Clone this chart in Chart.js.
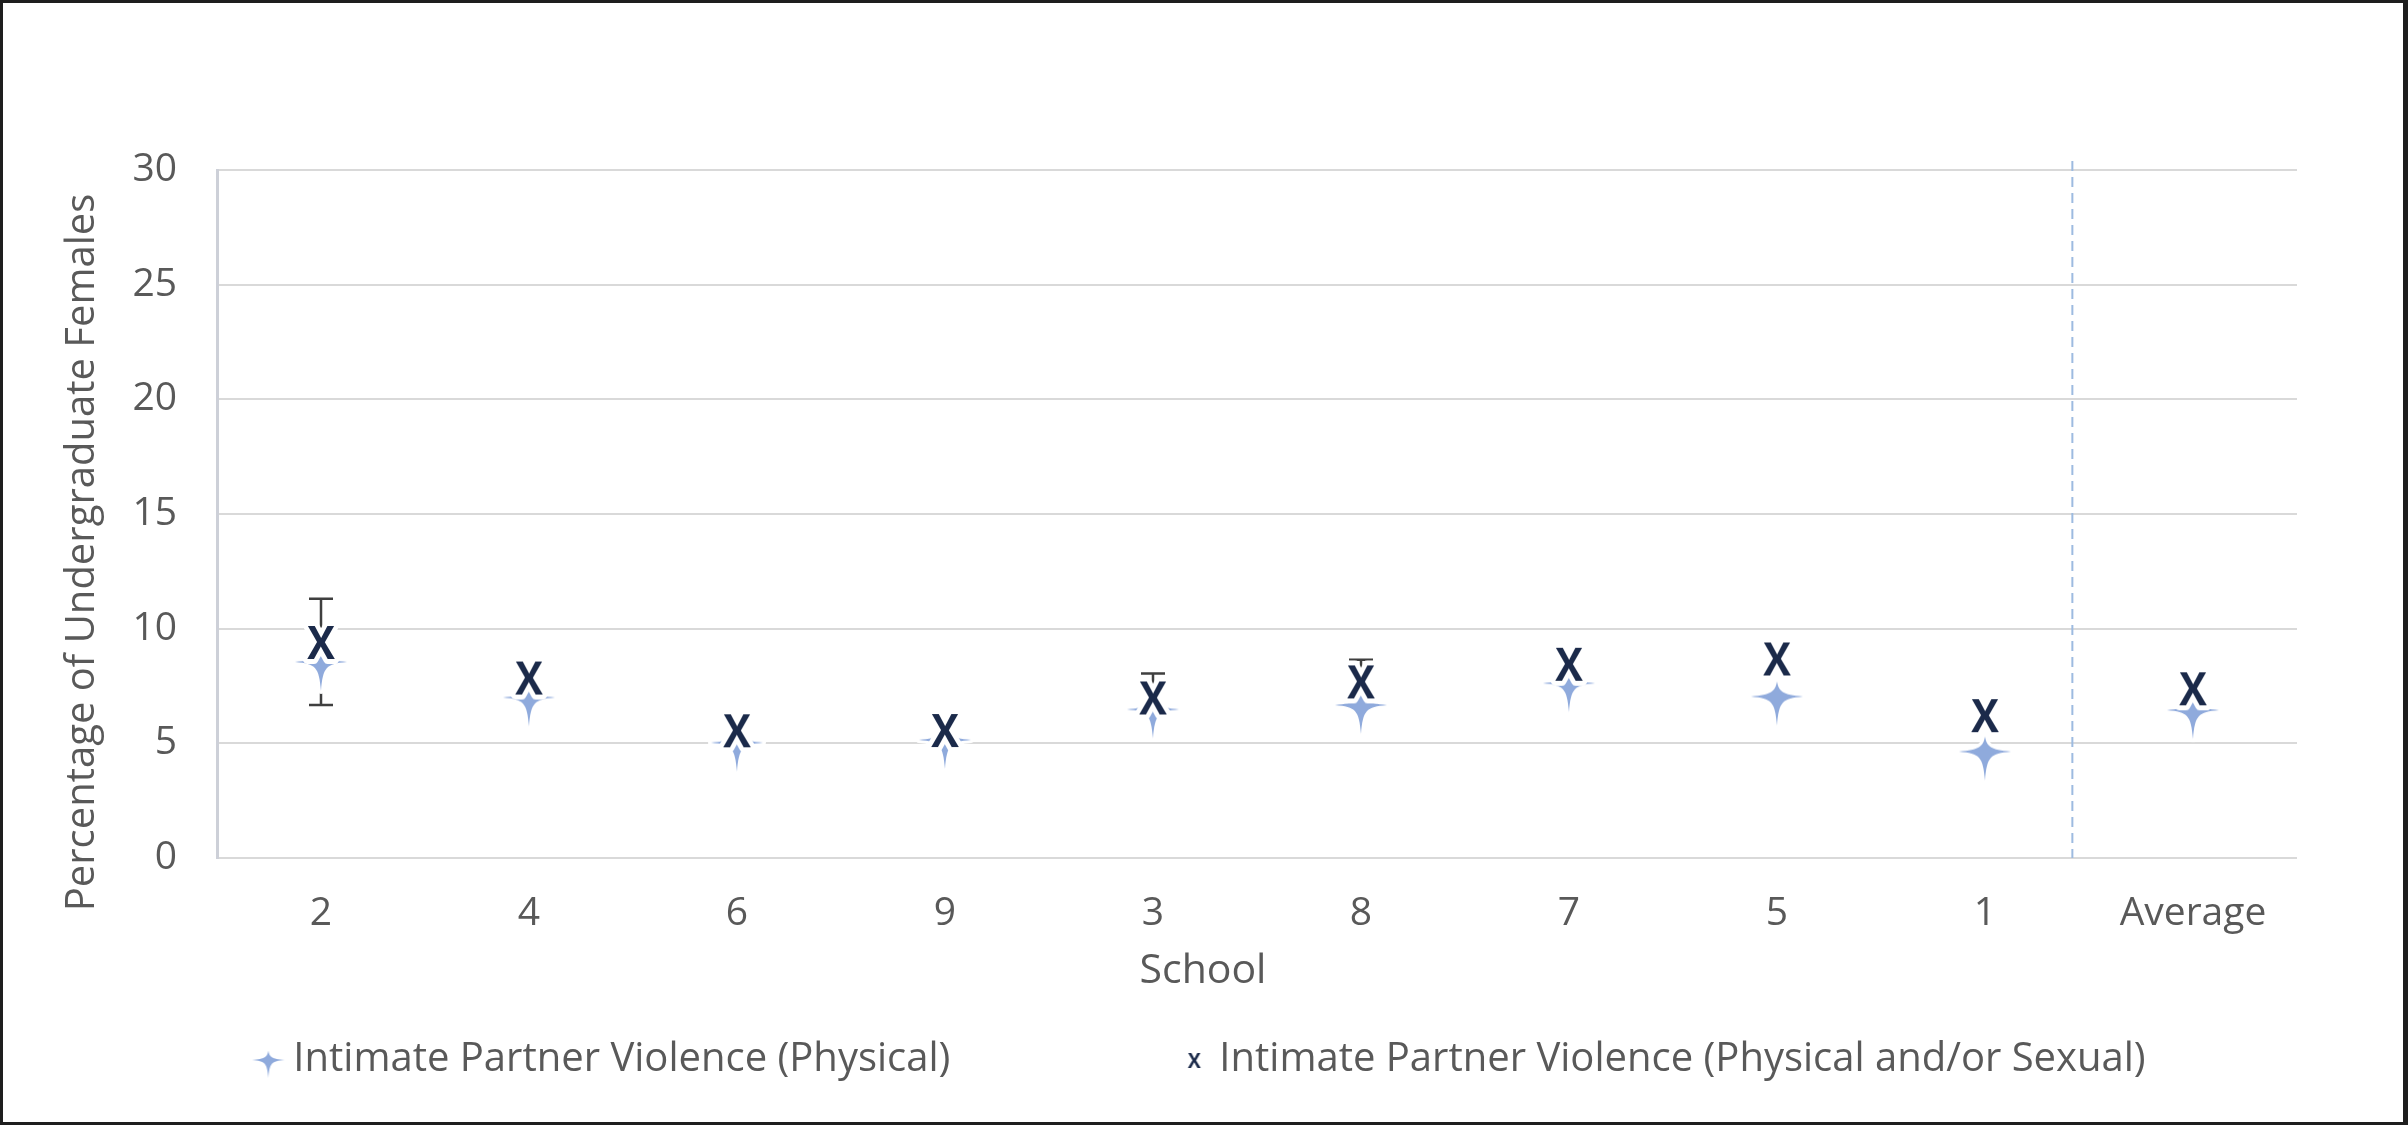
<!DOCTYPE html>
<html>
<head>
<meta charset="utf-8">
<script src="https://cdn.jsdelivr.net/npm/chart.js@4.4.1/dist/chart.umd.min.js"></script>
<style>
  html, body { margin: 0; padding: 0; background: #fff; }
  #frame { width: 2408px; height: 1125px; box-sizing: border-box; border: 3px solid #1e1e1e; border-right-width: 5px; background: #fff; }
  #wrap { position: relative; width: 2400px; height: 1119px; }
</style>
</head>
<body>
<div id="frame"><div id="wrap"><canvas id="myChart"></canvas></div></div>
<script>
const schools = ["2", "4", "6", "9", "3", "8", "7", "5", "1", "Average"];
const physical = [8.55, 7.0, 5.03, 5.15, 6.48, 6.67, 7.62, 7.04, 4.64, 6.45];
const physicalOrSexual = [9.42, 7.87, 5.57, 5.58, 7.0, 7.7, 8.47, 8.7, 6.23, 7.4];
const physicalErrDown = [1.88, 0, 0, 0, 0, 0, 0, 0, 0, 0];
const combinedErrUp = [1.88, 0, 0, 0, 1.04, 0.94, 0, 0, 0, 0];
const yTicks = [0, 5, 10, 15, 20, 25, 30];
const separatorAt = 8.42;
const seriesNames = ["Intimate Partner Violence (Physical)", "Intimate Partner Violence (Physical and/or Sexual)"];
const xTitle = "School";
const yTitle = "Percentage of Undergraduate Females";

const textColor = '#595959';
const fontFamily = '"Open Sans", "Noto Sans", sans-serif';

function makeStar(size, s, halo) {
    const c = document.createElement('canvas');
    c.width = size; c.height = size;
    const ctx = c.getContext('2d');
    const cx = size / 2, cy = size / 2;
    const up = 15 * s, down = 29 * s, side = 26 * s, a = 2 * s, b = 5 * s;
    ctx.beginPath();
    ctx.moveTo(cx, cy - up);
    ctx.bezierCurveTo(cx + a, cy - b, cx + b, cy - a, cx + side, cy);
    ctx.bezierCurveTo(cx + b, cy + a, cx + a, cy + b, cx, cy + down);
    ctx.bezierCurveTo(cx - a, cy + b, cx - b, cy + a, cx - side, cy);
    ctx.bezierCurveTo(cx - b, cy - a, cx - a, cy - b, cx, cy - up);
    ctx.closePath();
    if (halo) {
        ctx.strokeStyle = '#fff';
        ctx.lineWidth = halo;
        ctx.lineJoin = 'round';
        ctx.stroke();
    }
    ctx.fillStyle = '#8faadc';
    ctx.fill();
    return c;
}

function makeX(size, fontPx, halo) {
    const c = document.createElement('canvas');
    c.width = size; c.height = size;
    const ctx = c.getContext('2d');
    ctx.font = 'bold ' + fontPx + 'px ' + fontFamily;
    ctx.textAlign = 'center';
    ctx.textBaseline = 'alphabetic';
    ctx.translate(size / 2, 0);
    ctx.scale(0.88, 1);
    const baseline = size / 2 + fontPx * 0.714 / 2;
    if (halo) {
        ctx.lineWidth = halo;
        ctx.strokeStyle = '#fff';
        ctx.lineJoin = 'round';
        ctx.strokeText('X', 0, baseline);
    }
    ctx.fillStyle = '#1b2a4a';
    ctx.fillText('X', 0, baseline);
    return c;
}

const starIcon = makeStar(70, 1, 6);
const xIcon = makeX(70, 47, 10);
const legendStar = makeStar(36, 0.62, 0);
const legendX = makeX(30, 22, 0);

const errorBarPlugin = {
    id: 'errorBars',
    beforeDatasetsDraw(chart) {
        const { ctx, scales: { x, y } } = chart;
        ctx.save();
        ctx.strokeStyle = '#3f3f3f';
        ctx.lineWidth = 2.5;
        chart.data.datasets.forEach(ds => {
            ds.data.forEach((v, i) => {
                const px = x.getPixelForValue(i);
                const parts = [[ds.errUp ? ds.errUp[i] : 0, 1], [ds.errDown ? ds.errDown[i] : 0, -1]];
                parts.forEach(([e, sign]) => {
                    if (!e) return;
                    const y0 = y.getPixelForValue(v);
                    const y1 = y.getPixelForValue(v + sign * e);
                    ctx.beginPath();
                    ctx.moveTo(px, y0);
                    ctx.lineTo(px, y1);
                    ctx.moveTo(px - 12, y1);
                    ctx.lineTo(px + 12, y1);
                    ctx.stroke();
                });
            });
        });
        ctx.restore();
    }
};

const separatorPlugin = {
    id: 'separator',
    beforeDatasetsDraw(chart) {
        const { ctx, scales: { x, y } } = chart;
        const px = x.getPixelForValue(separatorAt);
        ctx.save();
        ctx.strokeStyle = '#9dbbe0';
        ctx.lineWidth = 2;
        ctx.setLineDash([10, 6]);
        ctx.beginPath();
        ctx.moveTo(px, y.top - 9);
        ctx.lineTo(px, y.bottom);
        ctx.stroke();
        ctx.restore();
    }
};

// axis titles centred on the whole picture, the way the original sits
const axisTitlePlugin = {
    id: 'axisTitles',
    afterDraw(chart) {
        const { ctx, scales: { x } } = chart;
        ctx.save();
        ctx.fillStyle = textColor;
        ctx.textAlign = 'center';
        ctx.textBaseline = 'middle';
        ctx.font = '41px ' + fontFamily;
        ctx.fillText(xTitle, chart.width / 2, x.bottom - 27);
        ctx.translate(80, chart.height / 2 - 10);
        ctx.rotate(-Math.PI / 2);
        ctx.font = '40px ' + fontFamily;
        ctx.fillText(yTitle, 0, 0);
        ctx.restore();
    }
};

const legendPlugin = {
    id: 'bottomLegend',
    afterDraw(chart) {
        const ctx = chart.ctx;
        const icons = [legendStar, legendX];
        const textOffset = 25, itemGap = 244;
        ctx.save();
        ctx.font = '40px ' + fontFamily;
        ctx.fillStyle = textColor;
        ctx.textBaseline = 'middle';
        const widths = seriesNames.map(t => ctx.measureText(t).width);
        const total = 8 + textOffset + widths[0] + itemGap + textOffset + widths[1];
        let cx = chart.width / 2 - total / 2 + 8;
        const cy = chart.height - chart.options.layout.padding.bottom / 2;
        seriesNames.forEach((name, i) => {
            ctx.drawImage(icons[i], cx - icons[i].width / 2, cy - icons[i].height / 2);
            ctx.fillText(name, cx + textOffset, cy);
            cx += textOffset + widths[i] + itemGap;
        });
        ctx.restore();
    }
};

const chartCtx = document.getElementById('myChart').getContext('2d');
new Chart(chartCtx, {
    type: 'line',
    data: {
        labels: schools,
        datasets: [
            {
                label: seriesNames[0],
                data: physical,
                showLine: false,
                pointStyle: starIcon,
                pointRadius: 20,
                pointHoverRadius: 20,
                order: 1,
                errDown: physicalErrDown
            },
            {
                label: seriesNames[1],
                data: physicalOrSexual,
                showLine: false,
                pointStyle: xIcon,
                pointRadius: 20,
                pointHoverRadius: 20,
                order: 0,
                errUp: combinedErrUp
            }
        ]
    },
    options: {
        responsive: true,
        maintainAspectRatio: false,
        animation: false,
        layout: { padding: { top: 167, right: 106, bottom: 124, left: 0 } },
        plugins: {
            legend: { display: false },
            tooltip: { enabled: false }
        },
        scales: {
            x: {
                offset: true,
                grid: { display: false, drawTicks: false },
                border: { display: false },
                ticks: { color: textColor, font: { family: fontFamily, size: 39 }, padding: 32, autoSkip: false, maxRotation: 0 },
                afterFit(scale) { scale.height = 140; }
            },
            y: {
                min: 0,
                max: 30,
                afterBuildTicks(scale) { scale.ticks = yTicks.map(v => ({ value: v })); },
                grid: { color: '#d9d9d9', lineWidth: 2, drawTicks: false },
                border: { color: '#cdd0d8', width: 3 },
                ticks: { color: textColor, font: { family: fontFamily, size: 39 }, padding: 40 },
                afterFit(scale) { scale.width = 214; }
            }
        }
    },
    plugins: [errorBarPlugin, separatorPlugin, axisTitlePlugin, legendPlugin]
});
</script>
</body>
</html>
